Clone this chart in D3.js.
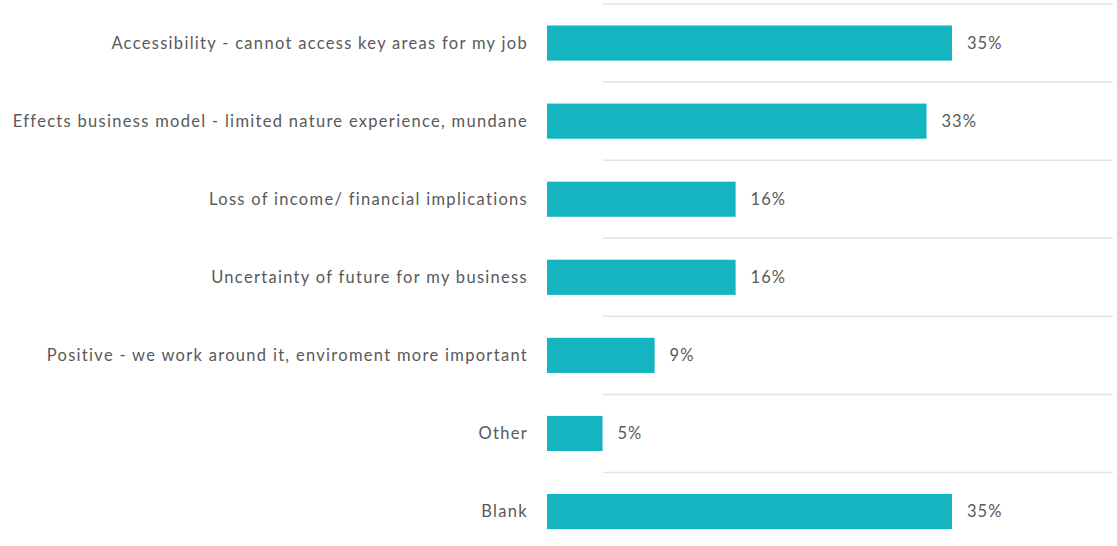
<!DOCTYPE html>
<html>
<head>
<meta charset="utf-8">
<script src="https://cdn.jsdelivr.net/npm/d3@7"></script>
<style>
  body { margin: 0; background: #fff; }
  text { font-family: Lato, "Open Sans", sans-serif; fill: #595959; }
</style>
</head>
<body>
<div id="chart"></div>
<script>
// categories and shares (%)
const categories = [
    "Accessibility - cannot access key areas for my job",
    "Effects business model - limited nature experience, mundane",
    "Loss of income/ financial implications",
    "Uncertainty of future for my business",
    "Positive - we work around it, enviroment more important",
    "Other",
    "Blank"
]
const values = [35, 32.8, 16.3, 16.3, 9.3, 4.8, 35]

let width = 1117
let height = 546
const barColor = "#14b4c1"

let svg = d3.select("#chart")
    .append("svg")
    .attr("width", width)
    .attr("height", height)

let x = d3.scaleLinear()
    .domain([0, 35])
    .range([547, 952])

let y = d3.scaleBand()
    .domain(categories)
    .range([4, 550.6])
    .paddingInner(0.55)
    .paddingOuter(0.275)

// row separators
let step = y.step()
svg.append("g")
    .selectAll("line")
    .data(d3.range(categories.length))
    .enter()
    .append("line")
    .attr("x1", 603)
    .attr("x2", 1113)
    .attr("y1", i => 4 + i * step)
    .attr("y2", i => 4 + i * step)
    .attr("stroke", "#e3e3e3")
    .attr("stroke-width", 1.5)

svg.append("g")
    .selectAll("rect")
    .data(values)
    .enter()
    .append("rect")
    .attr("x", x(0))
    .attr("y", (d, i) => y(categories[i]))
    .attr("width", d => x(d) - x(0))
    .attr("height", y.bandwidth())
    .attr("fill", barColor)

// category labels
svg.append("g")
    .selectAll("text")
    .data(categories)
    .enter()
    .append("text")
    .attr("x", 528)
    .attr("y", d => y(d) + y.bandwidth() / 2)
    .attr("dy", "0.35em")
    .attr("text-anchor", "end")
    .style("font-size", "16.5px")
    .style("letter-spacing", "1.3px")
    .text(d => d)

// value labels
svg.append("g")
    .selectAll("text")
    .data(values)
    .enter()
    .append("text")
    .attr("x", d => x(d) + 15)
    .attr("y", (d, i) => y(categories[i]) + y.bandwidth() / 2)
    .attr("dy", "0.35em")
    .style("font-size", "16.5px")
    .style("letter-spacing", "1px")
    .text(d => Math.round(d) + "%")
</script>
</body>
</html>
